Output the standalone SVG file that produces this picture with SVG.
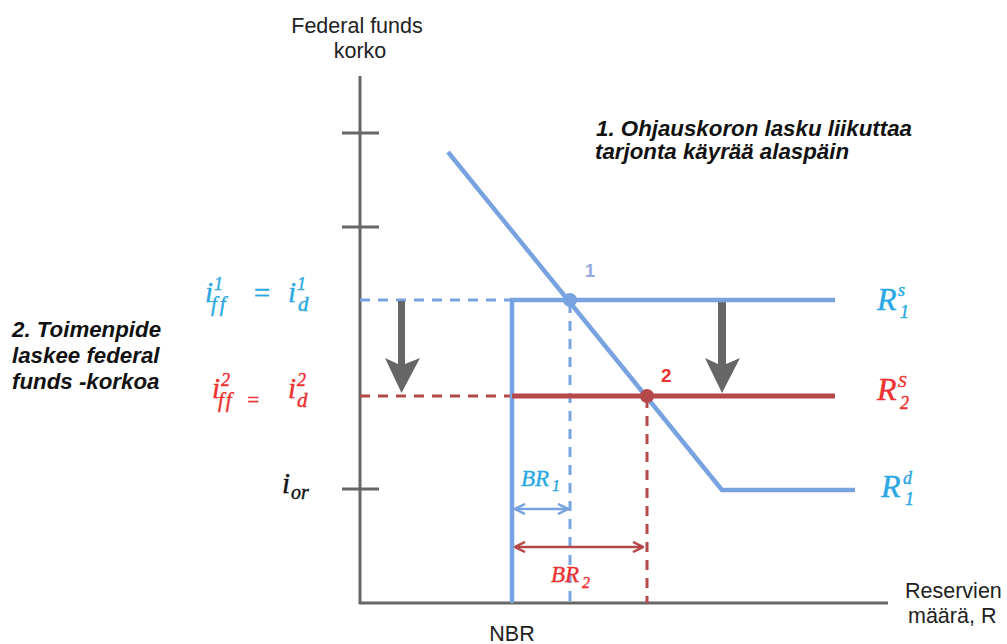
<svg xmlns="http://www.w3.org/2000/svg" width="1007" height="644" viewBox="0 0 1007 644">
<style>
.lbl{font-family:"Liberation Sans",Arial,sans-serif;font-size:21.5px;fill:#222}
.note{font-family:"Liberation Sans",Arial,sans-serif;font-size:22.3px;font-weight:bold;font-style:italic;fill:#111}
.m{font-family:"Liberation Serif","DejaVu Serif",serif;font-style:italic;stroke-width:0.4px;font-variant-ligatures:none}
.cy{fill:#2aa8e2;stroke:#2aa8e2}
.rd{fill:#ee3030;stroke:#ee3030}
.bk{fill:#111;stroke:#111}
.axis{stroke:#666;stroke-width:3;fill:none}
.blue{stroke:#78a3e0;stroke-width:4.5;fill:none}
.red{stroke:#b54848;stroke-width:5;fill:none}
.bdash{stroke:#78a3e0;stroke-width:3;stroke-dasharray:10 8;fill:none}
.rdash{stroke:#b54848;stroke-width:3;stroke-dasharray:10 8;fill:none}
.garrow{fill:#666}
</style>
<defs>
<marker id="ab" viewBox="0 0 10 10" refX="9" refY="5" markerWidth="5" markerHeight="5" orient="auto-start-reverse" markerUnits="strokeWidth">
<path d="M1,1 L9,5 L1,9" fill="none" stroke="#78a3e0" stroke-width="2"/>
</marker>
<marker id="ar" viewBox="0 0 10 10" refX="9" refY="5" markerWidth="5" markerHeight="5" orient="auto-start-reverse" markerUnits="strokeWidth">
<path d="M1,1 L9,5 L1,9" fill="none" stroke="#b54848" stroke-width="2"/>
</marker>
</defs>

<g id="axes">
<line class="axis" x1="360" y1="76" x2="360" y2="604"/>
<line class="axis" x1="359" y1="603" x2="888" y2="603"/>
<line class="axis" x1="342" y1="133" x2="379" y2="133"/>
<line class="axis" x1="342" y1="227" x2="379" y2="227"/>
<line class="axis" x1="342" y1="489" x2="379" y2="489"/>
<text class="lbl" x="357" y="33" text-anchor="middle">Federal funds</text>
<text class="lbl" x="360" y="58" text-anchor="middle">korko</text>
<text class="lbl" x="905" y="598">Reservien</text>
<text class="lbl" x="908" y="623">määrä, R</text>
<text class="lbl" x="512" y="641" text-anchor="middle">NBR</text>
</g>

<g id="connectors">
<line class="bdash" x1="360" y1="300" x2="512" y2="300"/>
<line class="bdash" x1="570" y1="303" x2="570" y2="603"/>
<line class="rdash" x1="360" y1="396" x2="512" y2="396"/>
<line class="rdash" x1="647" y1="398" x2="647" y2="603"/>
<line x1="515" y1="509" x2="568" y2="509" stroke="#78a3e0" stroke-width="2.5" marker-start="url(#ab)" marker-end="url(#ab)"/>
<line x1="515" y1="547" x2="643" y2="547" stroke="#b54848" stroke-width="2.5" marker-start="url(#ar)" marker-end="url(#ar)"/>
<polygon class="garrow" points="398,301 405,301 405,364 420,358 401.5,393 385,358 398,364"/>
<polygon class="garrow" points="718,301 726,301 726,364 740,358 722,393 705,358 718,364"/>
</g>

<g id="supply1">
<polyline class="blue" points="512,603 512,300 835,300"/>
</g>
<g id="supply2">
<line class="red" x1="512" y1="396" x2="835" y2="396"/>
</g>
<g id="demand">
<polyline class="blue" points="448,152 722,490 855,490" stroke-linejoin="round"/>
</g>
<g id="point1">
<circle cx="570" cy="300" r="7" fill="#78a3e0"/>
<text x="585" y="277" font-family="Liberation Sans,Arial,sans-serif" font-size="18" font-weight="bold" fill="#93a8e2">1</text>
</g>
<g id="point2">
<circle cx="647" cy="396" r="7" fill="#b54848"/>
<text x="661" y="382" font-family="Liberation Sans,Arial,sans-serif" font-size="19" font-weight="bold" fill="#ee3030">2</text>
</g>

<g id="label-iff1">
<text class="m cy" font-size="29"><tspan x="205" y="302">i</tspan><tspan x="214" y="290" font-size="18">1</tspan><tspan x="211" y="311" font-size="21" letter-spacing="3">ff</tspan><tspan x="252" y="303">=</tspan><tspan x="288" y="302">i</tspan><tspan x="297" y="290" font-size="18">1</tspan><tspan x="298" y="311" font-size="21">d</tspan></text>
</g>
<g id="label-iff2">
<text class="m rd" font-size="29"><tspan x="212" y="398">i</tspan><tspan x="221" y="386" font-size="18">2</tspan><tspan x="218" y="407" font-size="21" letter-spacing="2">ff</tspan><tspan x="246" y="407" font-size="21">=</tspan><tspan x="288" y="398">i</tspan><tspan x="297" y="386" font-size="18">2</tspan><tspan x="297" y="407" font-size="21">d</tspan></text>
</g>
<g id="label-ior">
<text class="m bk" font-size="29"><tspan x="282" y="493">i</tspan><tspan x="291" y="499" font-size="20">or</tspan></text>
</g>

<g id="label-R1s">
<text class="m cy" font-size="32"><tspan x="877" y="310">R</tspan><tspan x="898" y="296" font-size="18">s</tspan><tspan x="900" y="318" font-size="18">1</tspan></text>
</g>
<g id="label-R2s">
<text class="m rd" font-size="32"><tspan x="877" y="400">R</tspan><tspan x="898" y="387" font-size="17">S</tspan><tspan x="900" y="409" font-size="18">2</tspan></text>
</g>
<g id="label-R1d">
<text class="m cy" font-size="32"><tspan x="881" y="497">R</tspan><tspan x="903" y="484" font-size="18">d</tspan><tspan x="905" y="505" font-size="18">1</tspan></text>
</g>
<g id="label-BR1">
<text class="m cy" font-size="23"><tspan x="521" y="486">BR</tspan><tspan x="552" y="491" font-size="16">1</tspan></text>
</g>
<g id="label-BR2">
<text class="m rd" font-size="23"><tspan x="551" y="582">BR</tspan><tspan x="582" y="588" font-size="16">2</tspan></text>
</g>

<g id="note1">
<text class="note" x="596" y="136">1. Ohjauskoron lasku liikuttaa</text>
<text class="note" x="595" y="159">tarjonta käyrää alaspäin</text>
</g>
<g id="note2">
<text class="note" x="12" y="337">2. Toimenpide</text>
<text class="note" x="12" y="363">laskee federal</text>
<text class="note" x="12" y="389">funds -korkoa</text>
</g>
</svg>
